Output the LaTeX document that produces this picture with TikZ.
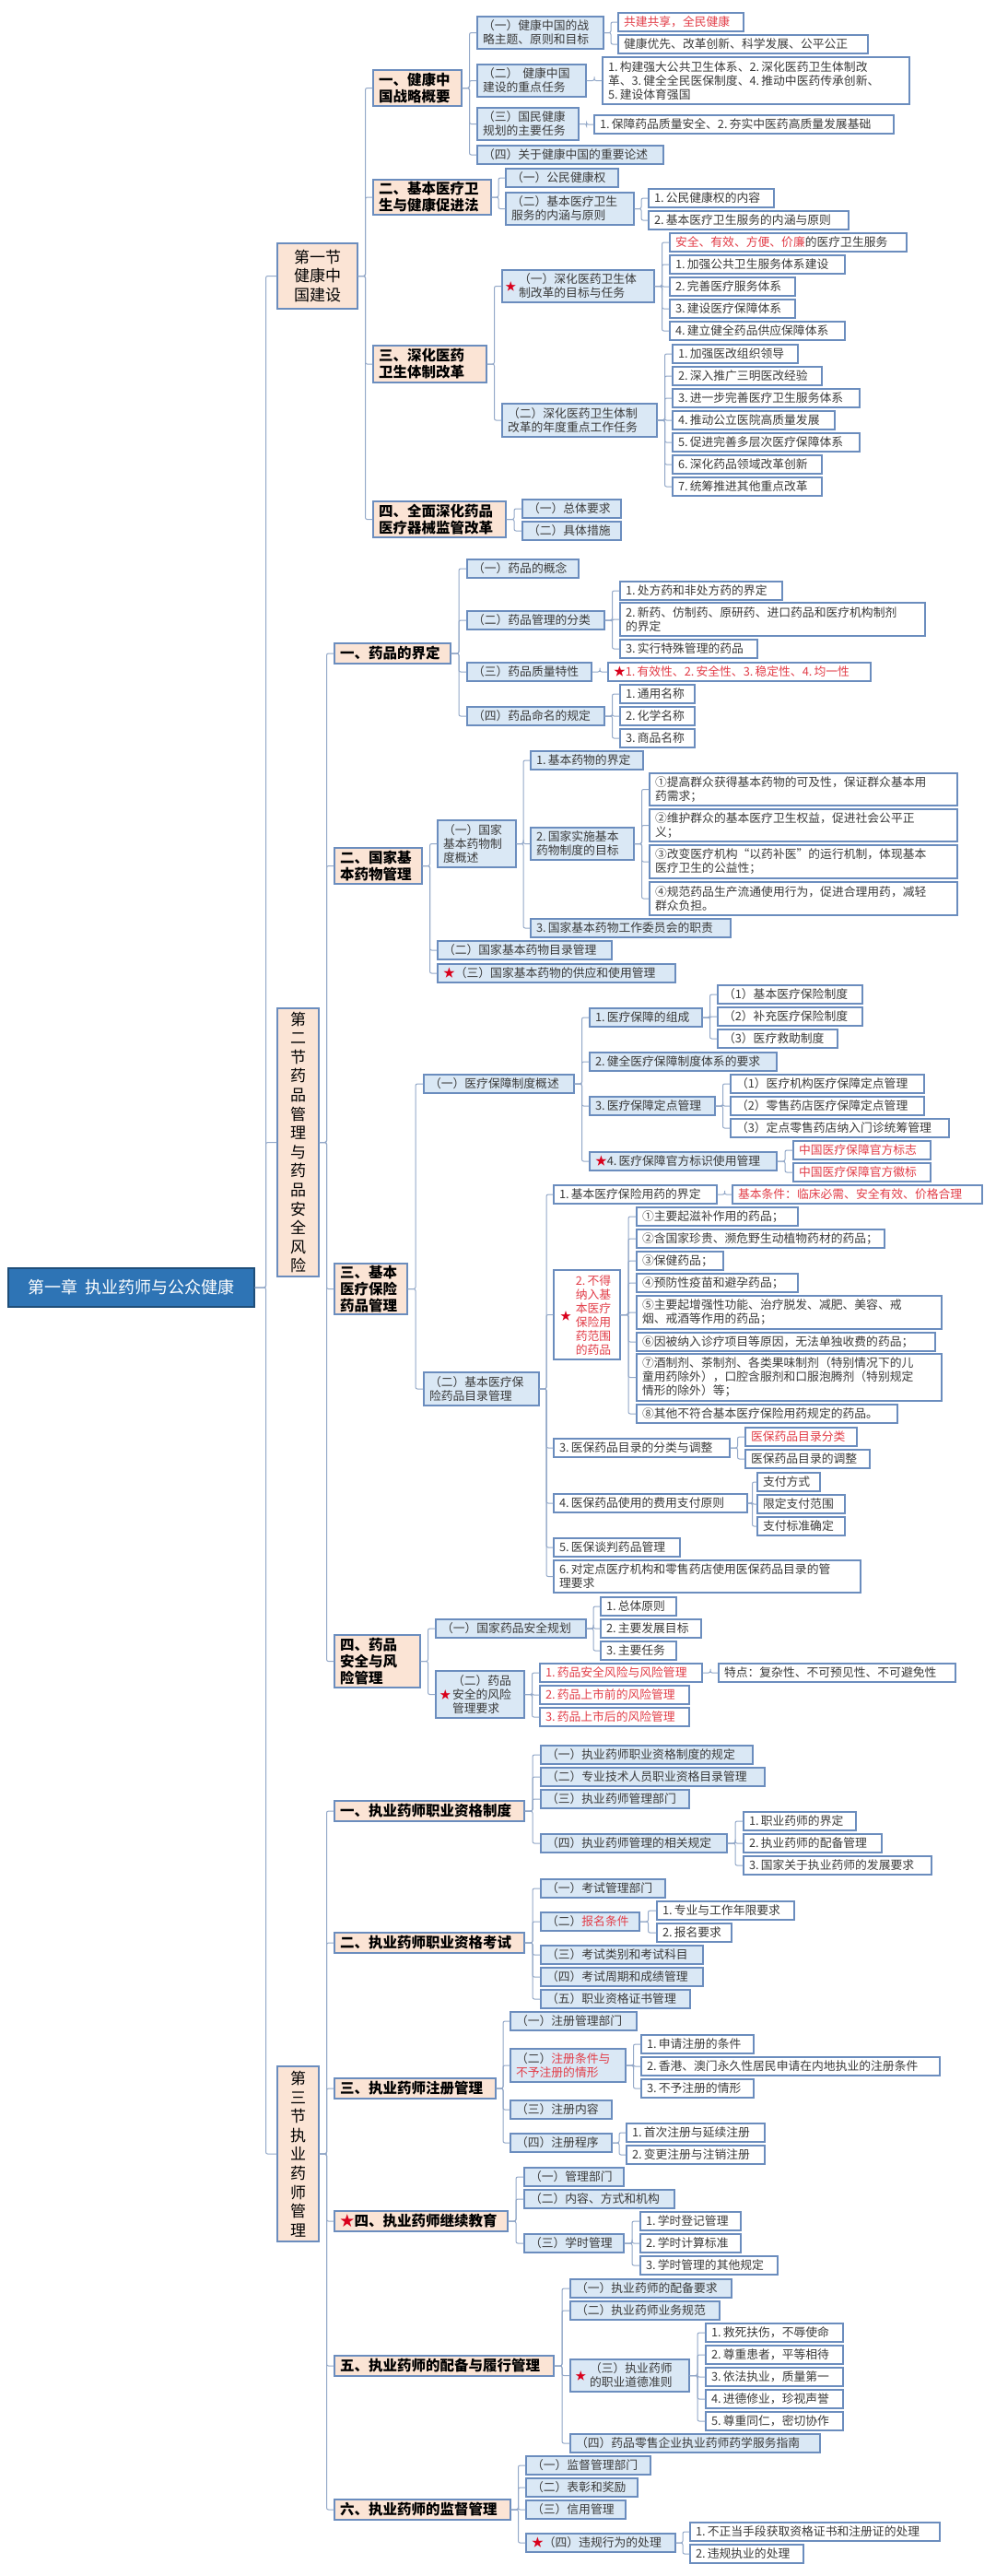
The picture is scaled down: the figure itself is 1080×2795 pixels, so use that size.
\documentclass[tikz,border=0pt]{standalone}
\usepackage{fontspec}
\setmainfont{Noto Sans CJK SC}
\usetikzlibrary{calc}
\definecolor{bord}{HTML}{6B8DBE}
\definecolor{lblue}{HTML}{DAE8F5}
\definecolor{peach}{HTML}{FBE4D5}
\definecolor{lnc}{HTML}{93A8C8}
\definecolor{txt}{HTML}{3A3A3A}
\definecolor{red1}{HTML}{E23D48}
\definecolor{starred}{HTML}{D9001B}
\definecolor{rootfill}{HTML}{2E74B5}
\definecolor{rootbord}{HTML}{1F4E79}
\newcommand{\mbx}[7][]{%
 \pgfmathsetmacro\mbxw{#5-#3}%
 \pgfmathsetmacro\mbxh{#6-#4}%
 \pgfmathsetmacro\mbxtw{#5-#3-12}%
 \pgfmathsetmacro\mbxcx{(#3+#5)/2}%
 \pgfmathsetmacro\mbxcy{(#4+#6)/2}%
 \node[leaf,minimum width=\mbxw pt,minimum height=\mbxh pt,text width=\mbxtw pt,#1] (#2) at (\mbxcx,\mbxcy) {#7};%
}
\newcommand{\cn}[2]{\draw[ln] (#1.east) -| ($(#1.east)!0.5!(#2.west)$) |- (#2.west);}
\newcommand{\cns}[2]{\foreach \cc in {#2}{\cn{#1}{\cc}}}
\newcommand{\rs}[1]{\textcolor{red1}{#1}}
\newcommand{\str}{\textcolor{starred}{★}}
\newcommand{\ind}[1]{\hspace*{#1}}
\tikzset{
 base/.style={draw=bord, line width=1.1pt, inner xsep=6pt, inner ysep=1pt, align=left, text=txt, font=\fontsize{12.8}{15}\selectfont},
 leaf/.style={base, fill=white},
 sub/.style={fill=lblue},
 lev/.style={fill=peach, text=black, font=\fontsize{15.5}{18}\selectfont\bfseries},
 sec/.style={fill=peach, text=black, align=center, font=\fontsize{17}{20.6}\selectfont},
 rd/.style={text=red1},
 ln/.style={draw=lnc, line width=1pt, rounded corners=2pt},
 stn/.style={text=starred, inner sep=0pt, font=\fontsize{12}{12}\selectfont}
}
\begin{document}
\begin{tikzpicture}[x=1pt,y=-1pt]
\fill[white] (0,0) rectangle (1080,2795);
\useasboundingbox (0,0) rectangle (1080,2795);
% root
\node[draw=rootbord, line width=1.2pt, fill=rootfill, text=white, minimum width=267pt, minimum height=42pt, font=\fontsize{18}{20}\selectfont] (R) at (142.5,1397) {第一章\hspace{8pt}执业药师与公众健康};
% sections
\mbx[sec]{S1}{301}{264}{388}{335}{第一节\\健康中\\国建设}
\mbx[sec,text width=40pt,inner xsep=2.5pt]{S2}{301}{1094}{346}{1385}{第\\二\\节\\药\\品\\管\\理\\与\\药\\品\\安\\全\\风\\险}
\mbx[sec,text width=40pt,inner xsep=2.5pt]{S3}{301}{2242}{346}{2432}{第\\三\\节\\执\\业\\药\\师\\管\\理}
% ===== Section 1
\mbx[lev]{A1}{405}{76}{501}{115}{一、健康中\\国战略概要}
\mbx[sub]{A1a}{518}{18}{655}{53}{（一）健康中国的战\\略主题、原则和目标}
\mbx[rd]{A1a1}{671}{14}{807}{34}{共建共享，全民健康}
\mbx{A1a2}{671}{38}{942}{58}{健康优先、改革创新、科学发展、公平公正}
\mbx[sub]{A1b}{518}{70}{636}{105}{（二）\kern5pt 健康中国\\建设的重点任务}
\mbx{A1b1}{654}{62}{987}{113}{1.\,构建强大公共卫生体系、2.\,深化医药卫生体制改\\革、3.\,健全全民医保制度、4.\,推动中医药传承创新、\\5.\,建设体育强国}
\mbx[sub]{A1c}{518}{117}{628}{152}{（三）国民健康\\规划的主要任务}
\mbx{A1c1}{645}{125}{970}{145}{1.\,保障药品质量安全、2.\,夯实中医药高质量发展基础}
\mbx[sub]{A1d}{518}{158}{720}{178}{（四）关于健康中国的重要论述}
\mbx[lev]{A2}{405}{195}{533}{233}{二、基本医疗卫\\生与健康促进法}
\mbx[sub]{A2a}{549}{183}{671}{203}{（一）公民健康权}
\mbx[sub]{A2b}{549}{209}{688}{244}{（二）基本医疗卫生\\服务的内涵与原则}
\mbx{A2b1}{704}{205}{840}{225}{1.\,公民健康权的内容}
\mbx{A2b2}{704}{229}{921}{249}{2.\,基本医疗卫生服务的内涵与原则}
\mbx[lev]{A3}{405}{375}{528}{415}{三、深化医药\\卫生体制改革}
\mbx[sub]{A3a}{545}{293}{710}{328}{\ind{12pt}（一）深化医药卫生体\\\ind{12pt}制改革的目标与任务}
\node[stn] (A3as) at ([xshift=10pt]A3a.west) {★};
\mbx{A3a1}{727}{253}{984}{273}{\rs{安全、有效、方便、价廉}的医疗卫生服务}
\mbx{A3a2}{727}{277}{917}{297}{1.\,加强公共卫生服务体系建设}
\mbx{A3a3}{727}{301}{863}{321}{2.\,完善医疗服务体系}
\mbx{A3a4}{727}{325}{863}{345}{3.\,建设医疗保障体系}
\mbx{A3a5}{727}{349}{917}{369}{4.\,建立健全药品供应保障体系}
\mbx[sub]{A3b}{545}{438}{713}{474}{（二）深化医药卫生体制\\改革的年度重点工作任务}
\mbx{A3b1}{730}{374}{866}{394}{1.\,加强医改组织领导}
\mbx{A3b2}{730}{398}{892}{418}{2.\,深入推广三明医改经验}
\mbx{A3b3}{730}{422}{933}{442}{3.\,进一步完善医疗卫生服务体系}
\mbx{A3b4}{730}{446}{906}{466}{4.\,推动公立医院高质量发展}
\mbx{A3b5}{730}{470}{933}{490}{5.\,促进完善多层次医疗保障体系}
\mbx{A3b6}{730}{494}{892}{514}{6.\,深化药品领域改革创新}
\mbx{A3b7}{730}{518}{892}{538}{7.\,统筹推进其他重点改革}
\mbx[lev]{A4}{405}{544}{549}{583}{四、全面深化药品\\医疗器械监管改革}
\mbx[sub]{A4a}{567}{542}{674}{562}{（一）总体要求}
\mbx[sub]{A4b}{567}{566}{674}{586}{（二）具体措施}
% ===== Section 2
\mbx[lev]{B1}{363}{698}{489}{720}{一、药品的界定}
\mbx[sub]{B1a}{507}{607}{628}{627}{（一）药品的概念}
\mbx[sub]{B1b}{507}{663}{656}{683}{（二）药品管理的分类}
\mbx{B1b1}{673}{631}{849}{651}{1.\,处方药和非处方药的界定}
\mbx{B1b2}{673}{654}{1004}{690}{2.\,新药、仿制药、原研药、进口药品和医疗机构制剂\\的界定}
\mbx{B1b3}{673}{694}{822}{714}{3.\,实行特殊管理的药品}
\mbx[sub]{B1c}{507}{719}{642}{739}{（三）药品质量特性}
\mbx[rd]{B1c1}{660}{719}{945}{739}{\str 1.\,有效性、2.\,安全性、3.\,稳定性、4.\,均一性}
\mbx[sub]{B1d}{507}{767}{656}{787}{（四）药品命名的规定}
\mbx{B1d1}{673}{743}{754}{763}{1.\,通用名称}
\mbx{B1d2}{673}{767}{754}{787}{2.\,化学名称}
\mbx{B1d3}{673}{791}{754}{811}{3.\,商品名称}
\mbx[lev]{B2}{363}{920}{458}{959}{二、国家基\\本药物管理}
\mbx[sub]{B2a}{475}{890}{560}{941}{（一）国家\\基本药物制\\度概述}
\mbx[sub]{B2a1}{576}{815}{698}{835}{1.\,基本药物的界定}
\mbx[sub]{B2a2}{576}{898}{688}{933}{2.\,国家实施基本\\药物制度的目标}
\mbx{B2x1}{705}{839}{1039}{874}{①提高群众获得基本药物的可及性，保证群众基本用\\药需求；}
\mbx{B2x2}{705}{878}{1039}{913}{②维护群众的基本医疗卫生权益，促进社会公平正\\义；}
\mbx{B2x3}{705}{917}{1039}{953}{③改变医疗机构“以药补医”的运行机制，体现基本\\医疗卫生的公益性；}
\mbx{B2x4}{705}{957}{1039}{993}{④规范药品生产流通使用行为，促进合理用药，减轻\\群众负担。}
\mbx[sub]{B2a3}{576}{997}{793}{1017}{3.\,国家基本药物工作委员会的职责}
\mbx[sub]{B2b}{475}{1021}{664}{1041}{（二）国家基本药物目录管理}
\mbx[sub]{B2c}{475}{1046}{733}{1066}{\str（三）国家基本药物的供应和使用管理}
\mbx[lev]{B3}{363}{1371}{442}{1426}{三、基本\\医疗保险\\药品管理}
\mbx[sub]{C1}{460}{1166}{623}{1186}{（一）医疗保障制度概述}
\mbx[sub]{C1a}{640}{1094}{762}{1114}{1.\,医疗保障的组成}
\mbx{C1a1}{779}{1069}{936}{1089}{（1）基本医疗保险制度}
\mbx{C1a2}{779}{1093}{936}{1113}{（2）补充医疗保险制度}
\mbx{C1a3}{779}{1117}{909}{1137}{（3）医疗救助制度}
\mbx[sub]{C1b}{640}{1142}{843}{1162}{2.\,健全医疗保障制度体系的要求}
\mbx[sub]{C1c}{640}{1190}{776}{1210}{3.\,医疗保障定点管理}
\mbx{C1c1}{793}{1166}{1003}{1186}{（1）医疗机构医疗保障定点管理}
\mbx{C1c2}{793}{1190}{1003}{1210}{（2）零售药店医疗保障定点管理}
\mbx{C1c3}{793}{1214}{1030}{1234}{（3）定点零售药店纳入门诊统筹管理}
\mbx[sub]{C1d}{640}{1250}{843}{1270}{\str 4.\,医疗保障官方标识使用管理}
\mbx[rd]{C1d1}{861}{1238}{1010}{1258}{中国医疗保障官方标志}
\mbx[rd]{C1d2}{861}{1262}{1010}{1282}{中国医疗保障官方徽标}
\mbx[sub]{C2}{460}{1489}{585}{1525}{（二）基本医疗保\\险药品目录管理}
\mbx{C2a}{601}{1286}{778}{1306}{1.\,基本医疗保险用药的界定}
\mbx[rd]{C2a1}{795}{1286}{1066}{1306}{基本条件：临床必需、安全有效、价格合理}
\mbx{C2b}{601}{1378}{673}{1475}{}
\node[text=red1, align=center, inner sep=0pt, font=\fontsize{12.8}{15}\selectfont] (C2bt) at (644,1427) {2.\,不得\\纳入基\\本医疗\\保险用\\药范围\\的药品};
\node[stn] (C2bs) at (614,1428) {★};
\mbx{C2b1}{691}{1310}{866}{1330}{①主要起滋补作用的药品；}
\mbx{C2b2}{691}{1334}{960}{1354}{②含国家珍贵、濒危野生动植物药材的药品；}
\mbx{C2b3}{691}{1358}{785}{1378}{③保健药品；}
\mbx{C2b4}{691}{1382}{866}{1402}{④预防性疫苗和避孕药品；}
\mbx{C2b5}{691}{1406}{1022}{1442}{⑤主要起增强性功能、治疗脱发、减肥、美容、戒\\烟、戒酒等作用的药品；}
\mbx{C2b6}{691}{1446}{1015}{1466}{⑥因被纳入诊疗项目等原因，无法单独收费的药品；}
\mbx{C2b7}{691}{1469}{1022}{1520}{⑦酒制剂、茶制剂、各类果味制剂（特别情况下的儿\\童用药除外），口腔含服剂和口服泡腾剂（特别规定\\情形的除外）等；}
\mbx{C2b8}{691}{1524}{974}{1544}{⑧其他不符合基本医疗保险用药规定的药品。}
\mbx{C2c}{601}{1561}{792}{1581}{3.\,医保药品目录的分类与调整}
\mbx[rd]{C2c1}{809}{1549}{930}{1569}{医保药品目录分类}
\mbx{C2c2}{809}{1573}{944}{1593}{医保药品目录的调整}
\mbx{C2d}{601}{1621}{811}{1641}{4.\,医保药品使用的费用支付原则}
\mbx{C2d1}{822}{1598}{890}{1618}{支付方式}
\mbx{C2d2}{822}{1622}{917}{1642}{限定支付范围}
\mbx{C2d3}{822}{1646}{917}{1666}{支付标准确定}
\mbx{C2e}{601}{1669}{738}{1689}{5.\,医保谈判药品管理}
\mbx{C2f}{601}{1693}{934}{1728}{6.\,对定点医疗机构和零售药店使用医保药品目录的管\\理要求}
\mbx[lev]{B4}{363}{1774}{456}{1831}{四、药品\\安全与风\\险管理}
\mbx[sub]{B4a}{473}{1757}{636}{1777}{（一）国家药品安全规划}
\mbx{B4a1}{652}{1733}{734}{1753}{1.\,总体原则}
\mbx{B4a2}{652}{1757}{761}{1777}{2.\,主要发展目标}
\mbx{B4a3}{652}{1781}{734}{1801}{3.\,主要任务}
\mbx[sub]{B4b}{473}{1813}{569}{1864}{\ind{12pt}（二）药品\\\ind{12pt}安全的风险\\\ind{12pt}管理要求}
\node[stn] (B4bs) at ([xshift=11pt]B4b.west) {★};
\mbx[rd]{B4b1}{586}{1805}{762}{1825}{1.\,药品安全风险与风险管理}
\mbx{B4b1x}{780}{1805}{1037}{1825}{特点：复杂性、不可预见性、不可避免性}
\mbx[rd]{B4b2}{586}{1829}{748}{1849}{2.\,药品上市前的风险管理}
\mbx[rd]{B4b3}{586}{1853}{748}{1873}{3.\,药品上市后的风险管理}
% ===== Section 3
\mbx[lev]{D1}{363}{1954}{569}{1976}{一、执业药师职业资格制度}
\mbx[sub]{D1a}{587}{1894}{817}{1914}{（一）执业药师职业资格制度的规定}
\mbx[sub]{D1b}{587}{1918}{830}{1938}{（二）专业技术人员职业资格目录管理}
\mbx[sub]{D1c}{587}{1942}{748}{1962}{（三）执业药师管理部门}
\mbx[sub]{D1d}{587}{1990}{789}{2010}{（四）执业药师管理的相关规定}
\mbx{D1d1}{807}{1966}{929}{1986}{1.\,职业药师的界定}
\mbx{D1d2}{807}{1990}{957}{2010}{2.\,执业药师的配备管理}
\mbx{D1d3}{807}{2014}{1011}{2034}{3.\,国家关于执业药师的发展要求}
\mbx[lev]{D2}{363}{2097}{569}{2119}{二、执业药师职业资格考试}
\mbx[sub]{D2a}{587}{2039}{722}{2059}{（一）考试管理部门}
\mbx[sub]{D2b}{587}{2075}{694}{2095}{（二）\rs{报名条件}}
\mbx{D2b1}{713}{2063}{862}{2083}{1.\,专业与工作年限要求}
\mbx{D2b2}{713}{2087}{794}{2107}{2.\,报名要求}
\mbx[sub]{D2c}{587}{2111}{763}{2131}{（三）考试类别和考试科目}
\mbx[sub]{D2d}{587}{2135}{763}{2155}{（四）考试周期和成绩管理}
\mbx[sub]{D2e}{587}{2159}{749}{2179}{（五）职业资格证书管理}
\mbx[lev]{D3}{363}{2255}{538}{2277}{三、执业药师注册管理}
\mbx[sub]{D3a}{554}{2183}{691}{2203}{（一）注册管理部门}
\mbx[sub]{D3b}{554}{2223}{679}{2259}{（二）\rs{注册条件与}\\\rs{不予注册的情形}}
\mbx{D3b1}{696}{2208}{818}{2228}{1.\,申请注册的条件}
\mbx{D3b2}{696}{2232}{1020}{2252}{2.\,香港、澳门永久性居民申请在内地执业的注册条件}
\mbx{D3b3}{696}{2256}{818}{2276}{3.\,不予注册的情形}
\mbx[sub]{D3c}{554}{2279}{664}{2299}{（三）注册内容}
\mbx[sub]{D3d}{554}{2315}{664}{2335}{（四）注册程序}
\mbx{D3d1}{680}{2304}{830}{2324}{1.\,首次注册与延续注册}
\mbx{D3d2}{680}{2328}{830}{2348}{2.\,变更注册与注销注册}
\mbx[lev]{D4}{363}{2399}{551}{2421}{\str 四、执业药师继续教育}
\mbx[sub]{D4a}{569}{2352}{677}{2372}{（一）管理部门}
\mbx[sub]{D4b}{569}{2376}{732}{2396}{（二）内容、方式和机构}
\mbx[sub]{D4c}{569}{2424}{677}{2444}{（三）学时管理}
\mbx{D4c1}{695}{2400}{804}{2420}{1.\,学时登记管理}
\mbx{D4c2}{695}{2424}{804}{2444}{2.\,学时计算标准}
\mbx{D4c3}{695}{2448}{844}{2468}{3.\,学时管理的其他规定}
\mbx[lev]{D5}{363}{2556}{601}{2578}{五、执业药师的配备与履行管理}
\mbx[sub]{D5a}{619}{2473}{794}{2493}{（一）执业药师的配备要求}
\mbx[sub]{D5b}{619}{2497}{781}{2517}{（二）执业药师业务规范}
\mbx[sub]{D5c}{619}{2560}{748}{2595}{\ind{15pt}（三）执业药师\\\ind{15pt}的职业道德准则}
\node[stn] (D5cs) at ([xshift=12pt]D5c.west) {★};
\mbx{D5c1}{766}{2521}{915}{2541}{1.\,救死扶伤，不辱使命}
\mbx{D5c2}{766}{2545}{915}{2565}{2.\,尊重患者，平等相待}
\mbx{D5c3}{766}{2569}{915}{2589}{3.\,依法执业，质量第一}
\mbx{D5c4}{766}{2593}{915}{2613}{4.\,进德修业，珍视声誉}
\mbx{D5c5}{766}{2617}{915}{2637}{5.\,尊重同仁，密切协作}
\mbx[sub]{D5d}{619}{2641}{890}{2661}{（四）药品零售企业执业药师药学服务指南}
\mbx[lev]{D6}{363}{2712}{554}{2734}{六、执业药师的监督管理}
\mbx[sub]{D6a}{571}{2665}{706}{2685}{（一）监督管理部门}
\mbx[sub]{D6b}{571}{2689}{692}{2709}{（二）表彰和奖励}
\mbx[sub]{D6c}{571}{2713}{679}{2733}{（三）信用管理}
\mbx[sub]{D6d}{571}{2749}{733}{2769}{\str（四）违规行为的处理}
\mbx{D6d1}{749}{2737}{1020}{2757}{1.\,不正当手段获取资格证书和注册证的处理}
\mbx{D6d2}{749}{2761}{872}{2781}{2.\,违规执业的处理}
% ===== connectors
\cns{R}{S1,S2,S3}
\cns{S1}{A1,A2,A3,A4}
\cns{A1}{A1a,A1b,A1c,A1d}
\cns{A1a}{A1a1,A1a2}
\cn{A1b}{A1b1}
\cn{A1c}{A1c1}
\cns{A2}{A2a,A2b}
\cns{A2b}{A2b1,A2b2}
\cns{A3}{A3a,A3b}
\cns{A3a}{A3a1,A3a2,A3a3,A3a4,A3a5}
\cns{A3b}{A3b1,A3b2,A3b3,A3b4,A3b5,A3b6,A3b7}
\cns{A4}{A4a,A4b}
\cns{S2}{B1,B2,B3,B4}
\cns{B1}{B1a,B1b,B1c,B1d}
\cns{B1b}{B1b1,B1b2,B1b3}
\cn{B1c}{B1c1}
\cns{B1d}{B1d1,B1d2,B1d3}
\cns{B2}{B2a,B2b,B2c}
\cns{B2a}{B2a1,B2a2,B2a3}
\cns{B2a2}{B2x1,B2x2,B2x3,B2x4}
\cns{B3}{C1,C2}
\cns{C1}{C1a,C1b,C1c,C1d}
\cns{C1a}{C1a1,C1a2,C1a3}
\cns{C1c}{C1c1,C1c2,C1c3}
\cns{C1d}{C1d1,C1d2}
\cns{C2}{C2a,C2b,C2c,C2d,C2e,C2f}
\cn{C2a}{C2a1}
\cns{C2b}{C2b1,C2b2,C2b3,C2b4,C2b5,C2b6,C2b7,C2b8}
\cns{C2c}{C2c1,C2c2}
\cns{C2d}{C2d1,C2d2,C2d3}
\cns{B4}{B4a,B4b}
\cns{B4a}{B4a1,B4a2,B4a3}
\cns{B4b}{B4b1,B4b2,B4b3}
\cn{B4b1}{B4b1x}
\cns{S3}{D1,D2,D3,D4,D5,D6}
\cns{D1}{D1a,D1b,D1c,D1d}
\cns{D1d}{D1d1,D1d2,D1d3}
\cns{D2}{D2a,D2b,D2c,D2d,D2e}
\cns{D2b}{D2b1,D2b2}
\cns{D3}{D3a,D3b,D3c,D3d}
\cns{D3b}{D3b1,D3b2,D3b3}
\cns{D3d}{D3d1,D3d2}
\cns{D4}{D4a,D4b,D4c}
\cns{D4c}{D4c1,D4c2,D4c3}
\cns{D5}{D5a,D5b,D5c,D5d}
\cns{D5c}{D5c1,D5c2,D5c3,D5c4,D5c5}
\cns{D6}{D6a,D6b,D6c,D6d}
\cns{D6d}{D6d1,D6d2}
\end{tikzpicture}
\end{document}
